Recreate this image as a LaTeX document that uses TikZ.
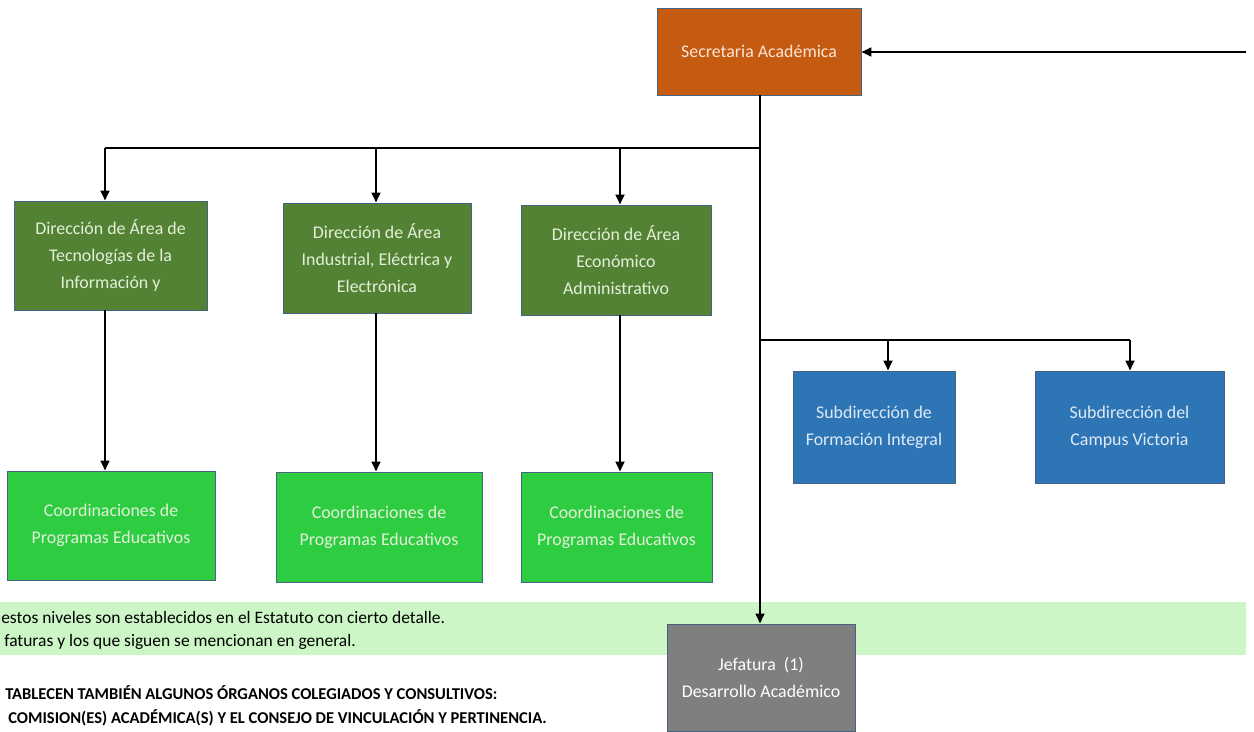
\documentclass[tikz,border=0pt]{standalone}
\usepackage{fontspec}
\setmainfont{Carlito}
\usetikzlibrary{arrows.meta}
\definecolor{orangeb}{RGB}{197,90,17}
\definecolor{dgreen}{RGB}{84,130,53}
\definecolor{bgreen}{RGB}{46,204,64}
\definecolor{blueb}{RGB}{46,117,182}
\definecolor{grayb}{RGB}{127,127,127}
\definecolor{bandc}{RGB}{204,246,198}
\definecolor{ltgreen}{RGB}{226,240,217}
\definecolor{ltorange}{RGB}{251,229,214}
\definecolor{ltblue}{RGB}{222,235,247}
\definecolor{edgec}{RGB}{70,100,130}
\begin{document}
\begin{tikzpicture}[x=0.75pt,y=-0.75pt,
  box/.style={draw=edgec, line width=0.6pt, inner sep=2pt, align=center,
    font=\fontsize{13.4}{20}\selectfont},
  sz/.style 2 args={minimum width=#1*0.75pt, minimum height=#2*0.75pt},
  conn/.style={line width=2.2pt, black},
  arr/.style={conn, -{Triangle[length=7.5pt,width=6.5pt]}},
  note/.style={anchor=west, inner sep=0pt, font=\fontsize{13.1}{16}\selectfont},
  bnote/.style={note, font=\fontsize{12.4}{16}\selectfont\bfseries}
]
\useasboundingbox (0,0) rectangle (1254,732);
\fill[bandc] (0,602) rectangle (1246,655);

\node[box, sz={204}{87}, fill=orangeb, text=ltorange] (sec) at (759,51.5) {Secretaria Académica};

\node[box, sz={193}{109}, fill=dgreen, text=ltgreen] (d1) at (110.5,255.5) {Dirección de Área de\\Tecnologías de la\\Información y};
\node[box, sz={188}{110}, fill=dgreen, text=ltgreen] (d2) at (377,258) {Dirección de Área\\Industrial, Eléctrica y\\Electrónica};
\node[box, sz={190}{110}, fill=dgreen, text=ltgreen] (d3) at (616,260) {Dirección de Área\\Económico\\Administrativo};

\node[box, sz={208}{109}, fill=bgreen, text=ltgreen] (c1) at (111,525.5) {Coordinaciones de\\Programas Educativos};
\node[box, sz={206}{110}, fill=bgreen, text=ltgreen] (c2) at (379,527) {Coordinaciones de\\Programas Educativos};
\node[box, sz={191}{110}, fill=bgreen, text=ltgreen] (c3) at (616.5,527) {Coordinaciones de\\Programas Educativos};

\node[box, sz={162}{112}, fill=blueb, text=ltblue] (s1) at (874,427) {Subdirección de\\Formación Integral};
\node[box, sz={189}{112}, fill=blueb, text=ltblue] (s2) at (1129.5,427) {Subdirección del\\Campus Victoria};

\node[box, sz={188}{107}, fill=grayb, text=white] (j) at (761,677.5) {Jefatura\ \ (1)\\Desarrollo Académico};

% connectors
\coordinate (src) at (1246,52);
\coordinate (t) at (760,95);
\coordinate (bus1) at (760,148);
\coordinate (bus2) at (760,340);
\coordinate (a1) at (105,148);
\coordinate (a2) at (376,148);
\coordinate (a3) at (620,148);
\coordinate (e1) at (888,340);
\coordinate (e2) at (1130,340);

\draw[arr] (src) -- (sec.east |- src);
\draw[arr] (t) -- (t |- j.north);
\draw[conn] (a1) -- (bus1);
\draw[arr] (a1) -- (a1 |- d1.north);
\draw[arr] (a2) -- (a2 |- d2.north);
\draw[arr] (a3) -- (a3 |- d3.north);
\draw[arr] (a1 |- d1.south) -- (a1 |- c1.north);
\draw[arr] (a2 |- d2.south) -- (a2 |- c2.north);
\draw[arr] (a3 |- d3.south) -- (a3 |- c3.north);
\draw[conn] (bus2) -- (e2);
\draw[arr] (e1) -- (e1 |- s1.north);
\draw[arr] (e2) -- (e2 |- s2.north);

% notes
\node[note] (n1) at (1,617) {estos niveles son establecidos en el Estatuto con cierto detalle.};
\node[note] (n2) at (4,642) {faturas y los que siguen se mencionan en general.};
\node[bnote] (n3) at (5,693) {TABLECEN TAMBIÉN ALGUNOS ÓRGANOS COLEGIADOS Y CONSULTIVOS:};
\node[bnote] (n4) at (8,718) {COMISION(ES) ACADÉMICA(S) Y EL CONSEJO DE VINCULACIÓN Y PERTINENCIA.};
\end{tikzpicture}
\end{document}
